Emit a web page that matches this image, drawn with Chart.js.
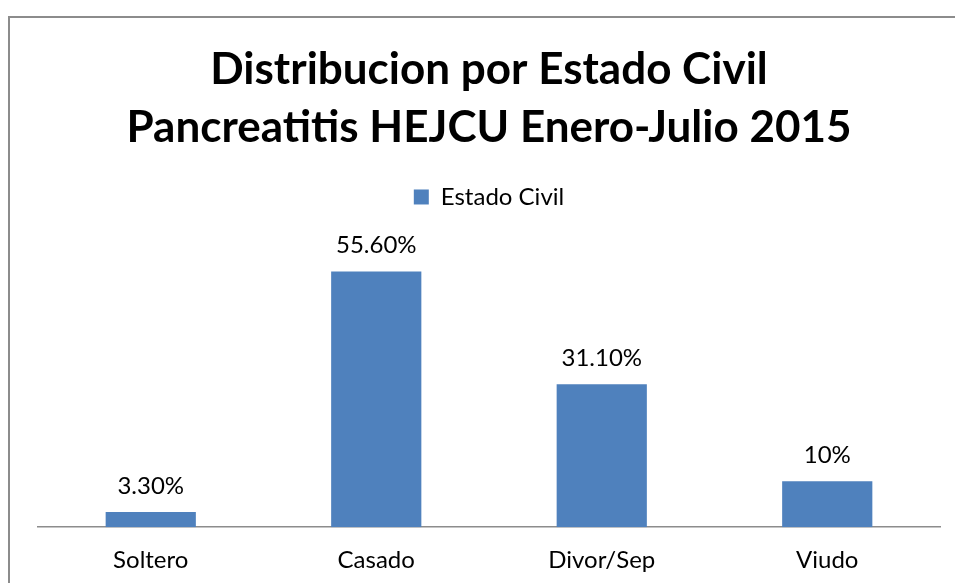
<!DOCTYPE html>
<html>
<head>
<meta charset="utf-8">
<script src="https://cdn.jsdelivr.net/npm/chart.js@4"></script>
<style>
  html, body { margin: 0; padding: 0; background: #fff; overflow: hidden; }
  #frame { position: absolute; left: 8px; top: 16px; width: 960px; height: 580px;
           border-top: 2px solid #8c8c8c; border-left: 2px solid #8c8c8c; }
  #wrap { position: absolute; left: 0; top: 0; width: 955px; height: 586px; }
</style>
</head>
<body>
<div id="frame"></div>
<div id="wrap"><canvas id="myChart"></canvas></div>
<script>
var categories = ['Soltero', 'Casado', 'Divor/Sep', 'Viudo'];
var values = [3.3, 55.6, 31.1, 10];
var valueLabels = ['3.30%', '55.60%', '31.10%', '10%'];
var titleLines = ['Distribucion por Estado Civil', 'Pancreatitis HEJCU Enero-Julio 2015'];

var fontFam = 'Lato, "Open Sans", sans-serif';

// draw the percentages above each bar
var barLabels = {
    id: 'barLabels',
    afterDatasetsDraw: function (chart) {
        var ctx = chart.ctx;
        var meta = chart.getDatasetMeta(0);
        ctx.save();
        ctx.font = '24px ' + fontFam;
        ctx.fillStyle = '#000';
        ctx.textAlign = 'center';
        ctx.textBaseline = 'middle';
        meta.data.forEach(function (bar, i) {
            ctx.fillText(valueLabels[i], bar.x, bar.y - 26);
        });
        ctx.restore();
    }
};

const ctx = document.getElementById('myChart');

new Chart(ctx, {
    type: 'bar',
    data: {
        labels: categories,
        datasets: [{
            label: 'Estado Civil',
            data: values,
            backgroundColor: '#4f81bd',
            categoryPercentage: 0.4,
            barPercentage: 1
        }]
    },
    options: {
        responsive: true,
        maintainAspectRatio: false,
        animation: false,
        layout: {
            padding: { left: 38, right: 15, top: 41, bottom: 0 }
        },
        scales: {
            y: {
                display: false,
                min: 0,
                max: 67
            },
            x: {
                grid: { display: false },
                border: { display: true, color: '#8c8c8c', width: 1.5 },
                ticks: {
                    color: '#000',
                    padding: 11,
                    font: { family: fontFam, size: 24 }
                }
            }
        },
        plugins: {
            title: {
                display: true,
                text: titleLines,
                color: '#000',
                font: { family: fontFam, size: 44, weight: 'bold', lineHeight: 1.318 },
                padding: { top: 0, bottom: 18 }
            },
            legend: {
                display: true,
                position: 'top',
                labels: {
                    color: '#000',
                    boxWidth: 15,
                    boxHeight: 15,
                    font: { family: fontFam, size: 24 }
                }
            },
            tooltip: { enabled: false }
        }
    },
    plugins: [barLabels]
});
</script>
</body>
</html>
